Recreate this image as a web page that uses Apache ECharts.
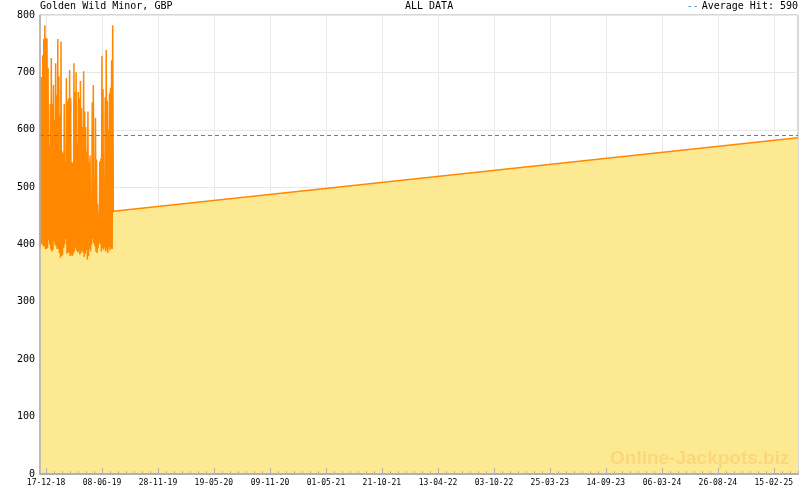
<!DOCTYPE html>
<html><head><meta charset="utf-8">
<script src="https://cdn.jsdelivr.net/npm/echarts@6/dist/echarts.min.js"></script>
<style>html,body{margin:0;padding:0;background:#fff}#c{width:800px;height:490px}</style>
</head><body><div id="c"></div>
<script>
const chartTitle = 'Golden Wild Minor, GBP';
const rangeTitle = 'ALL DATA';
const averageHit = 590;
const axisStart = [2018, 11, 28];
const axisEnd = [2025, 5, 1];
const tickLabels = ['17-12-18','08-06-19','28-11-19','19-05-20','09-11-20','01-05-21','21-10-21',
  '13-04-22','03-10-22','25-03-23','14-09-23','06-03-24','26-08-24','15-02-25'];
// dense spike period: alternating low / high readings
const spikeStart = [2018, 11, 28];
const spikeStepHours = 40;
const spikeTops = [692, 692, 730, 758, 782, 760, 759, 708, 570, 645, 725, 645, 678, 617, 716, 660, 758,
  693, 625, 754, 562, 560, 645, 544, 690, 650, 655, 704, 655, 544, 542, 716, 666, 700,
  577, 666, 655, 685, 638, 605, 702, 632, 605, 562, 632, 544, 555, 470, 648, 678, 440, 621,
  548, 470, 455, 545, 550, 729, 671, 460, 656, 739, 650, 600, 663, 673, 721, 782];
const spikeBottoms = [394, 400, 402, 397, 397, 392, 392, 394, 408, 400, 392, 388, 390, 406, 400, 397, 392,
  392, 385, 377, 380, 382, 394, 400, 410, 384, 386, 385, 380, 382, 380, 384, 388, 394,
  390, 386, 388, 382, 385, 390, 386, 378, 384, 390, 374, 380, 392, 388, 400, 411, 402,
  397, 388, 385, 394, 402, 400, 388, 394, 391, 395, 388, 392, 385, 395, 390, 393, 392];
const tailDates = [[2019, 7, 13], [2025, 5, 1]];
const tailValues = [458, 586];

const FONT = 'DejaVu Sans Mono';
const AXIS_GRAY = '#b0b0b0';
const ts = d => Date.UTC(d[0], d[1] - 1, d[2]);
const parseLabel = s => { const p = s.split('-').map(Number); return ts([2000 + p[2], p[1], p[0]]); };
const pad = n => (n < 10 ? '0' : '') + n;
const fmt = v => { const d = new Date(v); return pad(d.getUTCDate()) + '-' + pad(d.getUTCMonth() + 1) + '-' + pad(d.getUTCFullYear() % 100); };

const xMin = ts(axisStart), xMax = ts(axisEnd);
const majorTicks = tickLabels.map(parseLabel);
const minorTicks = [];
const avgStep = (majorTicks[majorTicks.length - 1] - majorTicks[0]) / (majorTicks.length - 1) / 7;
for (let t = majorTicks[0] - avgStep; t > xMin; t -= avgStep) minorTicks.push(t);
for (let i = 0; i < majorTicks.length - 1; i++) {
  const s = (majorTicks[i + 1] - majorTicks[i]) / 7;
  for (let k = 1; k < 7; k++) minorTicks.push(majorTicks[i] + k * s);
}
for (let t = majorTicks[majorTicks.length - 1] + avgStep; t <= xMax; t += avgStep) minorTicks.push(t);

const data = [];
const t0 = ts(spikeStart);
for (let i = 0; i < spikeTops.length; i++) {
  data.push([t0 + (2 * i) * spikeStepHours * 3600e3, spikeBottoms[i]]);
  data.push([t0 + (2 * i + 1) * spikeStepHours * 3600e3, spikeTops[i]]);
}
tailDates.forEach((d, i) => data.push([ts(d), tailValues[i]]));

const tickAxis = (vals, len) => ({
  type: 'value', min: xMin, max: xMax, position: 'bottom', gridIndex: 0, z: 10,
  axisLine: {show: false},
  axisTick: {show: true, inside: true, length: len, customValues: vals, lineStyle: {color: AXIS_GRAY, width: 1}},
  axisLabel: {show: false},
  splitLine: {show: false}
});

const chart = echarts.init(document.getElementById('c'), null, {renderer: 'canvas'});
chart.setOption({
  animation: false,
  backgroundColor: '#fff',
  title: [
    {text: chartTitle, left: 40, top: 1, padding: 0, textStyle: {fontFamily: FONT, fontSize: 10, fontWeight: 'normal', color: '#000'}},
    {text: rangeTitle, left: 405, top: 1, padding: 0, textStyle: {fontFamily: FONT, fontSize: 10, fontWeight: 'normal', color: '#000'}},
    {text: '{d|--}Average Hit: ' + averageHit, right: 2, top: 1, padding: 0,
     textStyle: {fontFamily: FONT, fontSize: 10, fontWeight: 'normal', color: '#000',
       rich: {d: {fontFamily: FONT, fontSize: 10, color: '#3a8fc6', padding: [0, 3, 0, 0]}}}}
  ],
  graphic: [{type: 'text', left: 610, top: 449, z: 100, silent: true,
    style: {text: 'Online-Jackpots.biz', font: 'bold 19px "Liberation Sans", Arial, sans-serif', fill: '#fcd67c'}}],
  grid: {left: 40, right: 2, top: 15, bottom: 16, show: true, borderColor: AXIS_GRAY, borderWidth: 1, backgroundColor: 'transparent'},
  xAxis: [{
    type: 'value', min: xMin, max: xMax, position: 'bottom',
    axisLine: {show: false},
    axisTick: {show: false, customValues: majorTicks},
    axisLabel: {show: true, customValues: majorTicks, formatter: v => fmt(v), fontFamily: FONT, fontSize: 8, color: '#000', margin: 5, hideOverlap: false, showMinLabel: true, showMaxLabel: true},
    splitLine: {show: true, lineStyle: {color: '#e8e8e8', width: 1}}
  },
  Object.assign(tickAxis(majorTicks, 6), {axisLine: {show: true, lineStyle: {color: AXIS_GRAY, width: 2}}}),
  tickAxis(minorTicks, 3)],
  yAxis: [{
    type: 'value', min: 0, max: 800, interval: 100,
    axisLine: {show: false},
    axisTick: {show: false},
    axisLabel: {fontFamily: FONT, fontSize: 10, color: '#000', margin: 5},
    splitLine: {show: true, lineStyle: {color: '#e8e8e8', width: 1}}
  }, {
    type: 'value', min: 0, max: 800, position: 'left', z: 10,
    axisLine: {show: true, lineStyle: {color: AXIS_GRAY, width: 1.5}},
    axisTick: {show: false}, axisLabel: {show: false}, splitLine: {show: false}
  }],
  series: [{
    type: 'line', xAxisIndex: 0, yAxisIndex: 0, data: data, showSymbol: false, symbol: 'none',
    lineStyle: {color: '#ff8800', width: 1.5},
    areaStyle: {color: '#fde992', opacity: 1},
    z: 2,
    markLine: {silent: true, symbol: 'none', label: {show: false},
      lineStyle: {color: '#3a8fc6', type: [4, 3], width: 1},
      data: [{yAxis: averageHit}]}
  }]
});
</script></body></html>
